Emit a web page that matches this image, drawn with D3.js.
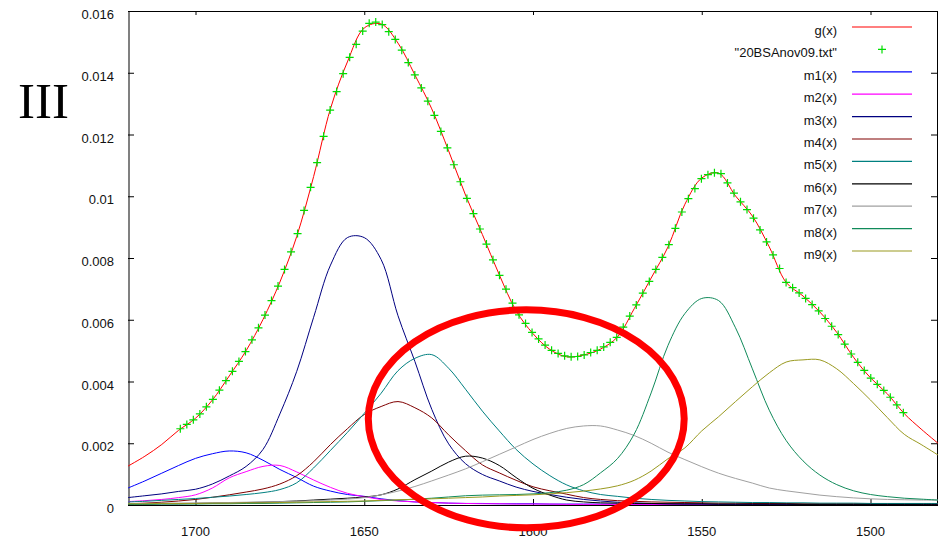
<!DOCTYPE html>
<html>
<head>
<meta charset="utf-8">
<script src="https://cdn.jsdelivr.net/npm/d3@7"></script>
<style>
  html, body { margin: 0; padding: 0; background: #fff; }
  svg { display: block; font-family: "Liberation Sans", Arial, sans-serif; }
</style>
</head>
<body>
<svg id="chart" width="943" height="541"></svg>
<script>
// ── 1. Data ──────────────────────────────────
// wavenumber grid (cm-1) for the fit curves
const WN = [1720,1715,1710,1705,1700,1695,1690,1685,1680,1675,1670,1665,1660,1655,1650,1645,1640,
  1635,1630,1625,1620,1615,1610,1605,1600,1595,1590,1585,1580,1575,1570,1565,1560,1555,1550,1545,
  1540,1535,1530,1525,1520,1515,1510,1505,1500,1495,1490,1485,1480];

const gFit = [.00126,.00158,.00196,.00242,.00281,.00340,.00418,.00500,.00601,.00722,.00870,.01064,
  .01284,.01435,.01545,.01558,.01496,.01393,.01283,.01147,.01004,.00876,.00746,.00629,.00555,.00504,
  .00480,.00486,.00505,.00544,.00636,.00735,.00836,.00974,.01059,.01075,.01001,.00936,.00836,.00721,
  .00677,.00625,.00559,.00478,.00412,.00360,.00296,.00246,.00200];

const m1 = [.00055,.00078,.00103,.00128,.00151,.00166,.00175,.00169,.00145,.00115,.00089,.00061,
  .00045,.00034,.00028,.00020,.00014,.00010,.00008,.00006,.00005,.00005,.00004,.00004,.00004,.00003,
  .00003,.00003,.00003,.00003,.00002,.00002,.00002,.00002,.00002,.00002,.00002,.00002,.00002,.00002,
  .00001,.00001,.00001,.00001,.00001,.00001,.00001,.00001,.00001];

const m2 = [.00011,.00014,.00018,.00024,.00033,.00055,.00088,.00108,.00125,.00128,.00107,.00081,
  .00057,.00038,.00027,.00018,.00013,.00010,.00008,.00006,.00005,.00004,.00004,.00003,.00003,.00003,
  .00002,.00002,.00002,.00002,.00002,.00002,.00002,.00002,.00002,.00001,.00001,.00001,.00001,.00001,
  .00001,.00001,.00001,.00001,.00001,.00001,.00001,.00001,.00001];

const m3 = [.00024,.00030,.00036,.00044,.00051,.00068,.00094,.00125,.00180,.00295,.00433,.00608,
  .00777,.00866,.00866,.00795,.00613,.00465,.00310,.00198,.00134,.00099,.00078,.00058,.00044,.00034,
  .00025,.00018,.00013,.00009,.00007,.00005,.00004,.00003,.00003,.00002,.00002,.00002,.00002,.00002,
  .00001,.00001,.00001,.00001,.00001,.00001,.00001,.00001,.00001];

const m4 = [.00004,.00006,.00009,.00013,.00018,.00025,.00033,.00042,.00052,.00068,.00095,.00140,
  .00196,.00247,.00293,.00319,.00335,.00315,.00282,.00227,.00176,.00130,.00104,.00080,.00059,.00046,
  .00035,.00024,.00018,.00014,.00012,.00010,.00009,.00008,.00007,.00006,.00006,.00005,.00005,.00005,
  .00004,.00004,.00004,.00004,.00004,.00004,.00004,.00004,.00004];

const m5 = [.00010,.00012,.00015,.00018,.00021,.00025,.00029,.00034,.00040,.00050,.00072,.00120,
  .00177,.00235,.00297,.00362,.00435,.00475,.00487,.00443,.00375,.00304,.00240,.00180,.00133,.00095,
  .00065,.00046,.00034,.00028,.00022,.00018,.00015,.00013,.00011,.00010,.00009,.00008,.00008,.00007,
  .00007,.00006,.00006,.00006,.00005,.00005,.00005,.00005,.00005];

const m6 = [.00003,.00003,.00004,.00004,.00005,.00006,.00007,.00008,.00009,.00011,.00013,.00016,
  .00019,.00022,.00026,.00033,.00052,.00082,.00110,.00139,.00158,.00152,.00128,.00089,.00054,.00032,
  .00016,.00010,.00007,.00006,.00005,.00005,.00004,.00004,.00004,.00003,.00003,.00003,.00003,.00003,
  .00002,.00002,.00002,.00002,.00002,.00002,.00002,.00002,.00002];

const m7 = [.00005,.00005,.00006,.00006,.00007,.00007,.00008,.00009,.00010,.00011,.00012,.00014,
  .00016,.00019,.00024,.00033,.00045,.00060,.00078,.00097,.00117,.00140,.00164,.00188,.00212,.00232,
  .00248,.00256,.00256,.00243,.00225,.00200,.00171,.00147,.00124,.00103,.00086,.00071,.00055,.00046,
  .00039,.00032,.00027,.00023,.00020,.00018,.00017,.00016,.00016];

const m8 = [.00002,.00002,.00003,.00003,.00003,.00004,.00004,.00005,.00005,.00006,.00007,.00008,
  .00009,.00010,.00012,.00014,.00016,.00019,.00022,.00026,.00030,.00032,.00033,.00034,.00036,.00040,
  .00048,.00066,.00104,.00150,.00230,.00363,.00517,.00620,.00669,.00662,.00574,.00441,.00307,.00209,
  .00143,.00097,.00066,.00046,.00034,.00027,.00022,.00019,.00016];

const m9 = [.00004,.00004,.00005,.00005,.00005,.00006,.00006,.00007,.00007,.00008,.00009,.00010,
  .00011,.00012,.00013,.00015,.00017,.00018,.00020,.00022,.00024,.00026,.00029,.00031,.00033,.00036,
  .00040,.00045,.00052,.00062,.00080,.00110,.00150,.00185,.00240,.00286,.00335,.00383,.00428,.00463,
  .00470,.00470,.00441,.00393,.00340,.00283,.00229,.00196,.00162];

// measured spectrum ("+" points), sampled every 1.93 cm-1 from 1704.5
const DATA_START = 1704.5, DATA_STEP = 1.93;
const measured = [.00247,.00261,.00276,.00295,.00318,.00342,.00372,.00403,.00433,.00465,
  .00497,.00535,.00574,.00615,.00662,.00709,.00763,.00820,.00879,.00954,
  .01029,.01109,.01194,.01279,.01339,.01397,.01450,.01492,.01535,.01560,
  .01564,.01556,.01533,.01508,.01473,.01433,.01393,.01351,.01308,.01262,
  .01210,.01157,.01102,.01047,.00993,.00944,.00894,.00845,.00794,.00744,
  .00699,.00654,.00616,.00588,.00559,.00538,.00518,.00501,.00491,.00483,
  .00480,.00481,.00486,.00494,.00501,.00512,.00527,.00543,.00576,.00612,
  .00648,.00686,.00724,.00763,.00802,.00843,.00896,.00949,.00992,.01025,
  .01057,.01070,.01076,.01073,.01043,.01010,.00982,.00957,.00929,.00891,
  .00852,.00810,.00766,.00721,.00704,.00687,.00669,.00649,.00629,.00604,
  .00579,.00552,.00521,.00489,.00462,.00436,.00411,.00391,.00371,.00349,
  .00324,.00299];

const xTicks = [1700, 1650, 1600, 1550, 1500];
const yTicks = [0, 0.002, 0.004, 0.006, 0.008, 0.01, 0.012, 0.014, 0.016];
const yTickLabels = ["0", "0.002", "0.004", "0.006", "0.008", "0.01", "0.012", "0.014", "0.016"];

const legendLabels = ["g(x)", "\"20BSAnov09.txt\"", "m1(x)", "m2(x)", "m3(x)", "m4(x)",
  "m5(x)", "m6(x)", "m7(x)", "m8(x)", "m9(x)"];

// ── 2. Styles ────────────────────────────────
const COMPONENTS = [
  { values: m1, color: "#0000ff" },
  { values: m2, color: "#ff00ff" },
  { values: m3, color: "#000080" },
  { values: m4, color: "#800000" },
  { values: m5, color: "#008080" },
  { values: m6, color: "#000000" },
  { values: m7, color: "#a0a0a0" },
  { values: m8, color: "#108a5a" },
  { values: m9, color: "#9a9a20" },
];
const FIT_COLOR  = "#ff0000";
const DATA_COLOR = "#00dd00";

// ── 3. Scales ────────────────────────────────
const L = 128, R = 938, T = 11, B = 505;
const x = d3.scaleLinear().domain([1720, 1480]).range([L, R]);
const y = d3.scaleLinear().domain([0, 0.016]).range([B, T]);

const svg = d3.select("#chart");

svg.append("defs").append("clipPath").attr("id", "plot-clip")
  .append("rect").attr("x", L).attr("y", T).attr("width", R - L).attr("height", B - T);

// ── 4. Frame + ticks ─────────────────────────
svg.append("rect")
  .attr("x", L + 0.5).attr("y", T + 0.5)
  .attr("width", R - L - 1).attr("height", B - T)
  .attr("fill", "none").attr("stroke", "#000").attr("stroke-width", 1);

svg.append("line")
  .attr("x1", L + 1).attr("x2", L + 1).attr("y1", T).attr("y2", B + 1)
  .attr("stroke", "#808080").attr("stroke-width", 2);

const yAxisL = d3.axisRight(y).tickValues(yTicks).tickSize(6).tickFormat("");
const yAxisR = d3.axisLeft(y).tickValues(yTicks).tickSize(6).tickFormat("");
const xAxisB = d3.axisTop(x).tickValues(xTicks).tickSize(6).tickFormat("");
const xAxisT = d3.axisBottom(x).tickValues(xTicks).tickSize(4).tickFormat("");

[[yAxisL, `translate(${L},0)`], [yAxisR, `translate(${R - 1},0)`],
 [xAxisB, `translate(0,${B})`], [xAxisT, `translate(0,${T})`]].forEach(([ax, tr]) => {
  const g = svg.append("g").attr("transform", tr).call(ax);
  g.select(".domain").remove();
  g.selectAll("line").attr("stroke", "#000");
});

// tick labels
svg.append("g").selectAll("text")
  .data(yTicks)
  .join("text")
  .attr("x", 114)
  .attr("y", d => y(d) + 8)
  .attr("text-anchor", "end")
  .attr("font-size", "13px")
  .attr("fill", "#111")
  .text((d, i) => yTickLabels[i]);

svg.append("g").selectAll("text")
  .data(xTicks)
  .join("text")
  .attr("x", d => x(d))
  .attr("y", 536)
  .attr("text-anchor", "middle")
  .attr("font-size", "13px")
  .attr("fill", "#111")
  .text(d => d);

// panel label
svg.append("text")
  .attr("x", 18).attr("y", 118)
  .attr("font-family", "'Liberation Serif', 'Times New Roman', serif")
  .attr("font-size", "51px")
  .attr("fill", "#000")
  .text("III");

// ── 5. Curves ────────────────────────────────
const plot = svg.append("g").attr("clip-path", "url(#plot-clip)");

const line = d3.line()
  .x((d, i) => x(WN[i]))
  .y(d => y(d))
  .curve(d3.curveCatmullRom.alpha(0.5));

plot.append("path")
  .attr("d", line(gFit))
  .attr("fill", "none")
  .attr("stroke", FIT_COLOR)
  .attr("stroke-width", 1);

// measured points as "+"
const cross = 4;
const pts = plot.append("g").attr("stroke", DATA_COLOR).attr("stroke-width", 1.2);
measured.forEach((v, i) => {
  const px = x(DATA_START - i * DATA_STEP), py = y(v);
  pts.append("path").attr("d", `M${px - cross},${py}H${px + cross}M${px},${py - cross}V${py + cross}`);
});

COMPONENTS.forEach(c => {
  plot.append("path")
    .attr("d", line(c.values))
    .attr("fill", "none")
    .attr("stroke", c.color)
    .attr("stroke-width", 1);
});

// ── 6. Legend ────────────────────────────────
const LEG_TEXT_X = 837, LEG_X1 = 852, LEG_X2 = 912, LEG_Y0 = 27, LEG_DY = 22.4;
const legendColors = [FIT_COLOR, DATA_COLOR, ...COMPONENTS.map(c => c.color)];
legendLabels.forEach((lab, i) => {
  const ly = LEG_Y0 + i * LEG_DY;
  svg.append("text")
    .attr("x", LEG_TEXT_X).attr("y", ly + 8)
    .attr("text-anchor", "end")
    .attr("font-size", "13px")
    .attr("fill", "#111")
    .text(lab);
  if (i === 1) {
    const cx = (LEG_X1 + LEG_X2) / 2;
    svg.append("path")
      .attr("d", `M${cx - cross},${ly}H${cx + cross}M${cx},${ly - cross}V${ly + cross}`)
      .attr("stroke", DATA_COLOR).attr("stroke-width", 1.2);
  } else {
    svg.append("line")
      .attr("x1", LEG_X1).attr("x2", LEG_X2).attr("y1", ly).attr("y2", ly)
      .attr("stroke", legendColors[i]).attr("stroke-width", 1.2);
  }
});

// ── 7. Hand-drawn red ellipse annotation ─────
const ellipseCenter = [1602, 0.00279];   // data units
const ellipseRadius = [46.8, 0.00353];   // cm-1, absorbance
svg.append("ellipse")
  .attr("cx", x(ellipseCenter[0]))
  .attr("cy", y(ellipseCenter[1]))
  .attr("rx", x(ellipseCenter[0] - ellipseRadius[0]) - x(ellipseCenter[0]))
  .attr("ry", y(0) - y(ellipseRadius[1]))
  .attr("fill", "none")
  .attr("stroke", "#ff0000")
  .attr("stroke-width", 7);
</script>
</body>
</html>
